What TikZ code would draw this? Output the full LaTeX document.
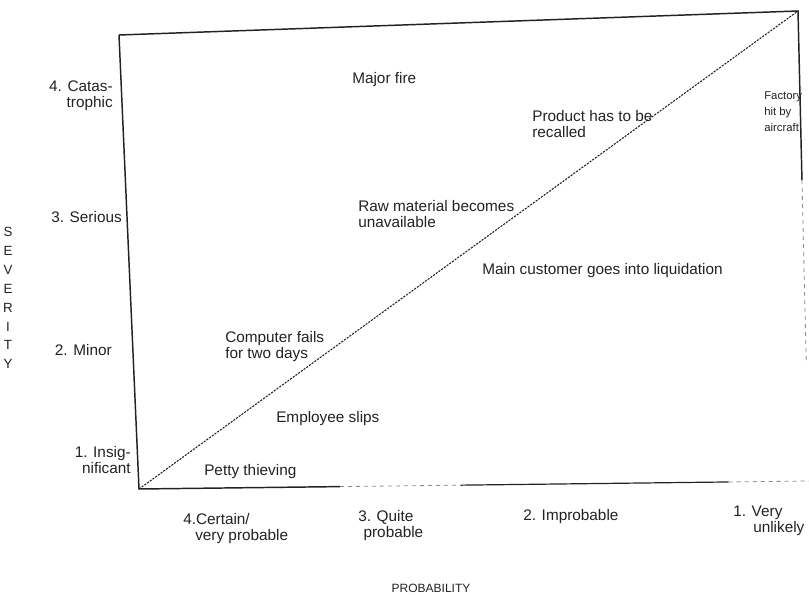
\documentclass[tikz,border=0pt]{standalone}
\usepackage{fontspec}
\setmainfont{Liberation Sans}
\usepackage{xcolor}
\usetikzlibrary{calc}
\definecolor{ink}{HTML}{222222}
\definecolor{faint}{HTML}{8A8A8A}
\tikzset{
  frame/.style={draw=ink, line width=1.1pt},
  worn/.style={draw=faint, line width=0.6pt, dashed},
  divide/.style={draw=ink, line width=0.8pt, dash pattern=on 1.6pt off 0.9pt},
  lab/.style={text=ink, font=\fontsize{11.5}{12}\selectfont, inner sep=0pt, align=left},
  scale lab/.style={lab, align=right, anchor=east},
  axis title/.style={text=ink, font=\fontsize{9}{14.2}\selectfont, inner sep=0pt, align=center},
}

\begin{document}
\begin{tikzpicture}[x=0.75pt, y=-0.75pt]
\useasboundingbox (0,0) rectangle (809,595);

% corners of the chart
\coordinate (tl) at (119,35);
\coordinate (tr) at (798,11);
\coordinate (br) at (809,481);
\coordinate (bl) at (139,489);

% frame and dividing diagonal
\draw[frame] (tl) -- (tr) -- ($(tr)!0.36!(br)$);
\draw[worn] ($(tr)!0.36!(br)$) -- ($(tr)!0.75!(br)$);
\draw[frame] (tl) -- (bl) -- ($(bl)!0.3!(br)$);
\draw[worn] ($(bl)!0.3!(br)$) -- ($(bl)!0.48!(br)$);
\draw[frame, line width=0.9pt] ($(bl)!0.48!(br)$) -- ($(bl)!0.88!(br)$);
\draw[worn] ($(bl)!0.88!(br)$) -- (br);
\draw[divide] (bl) -- (tr);

% severity scale
\node[scale lab] (sev4) at (113,96) {4. Catas-\\trophic};
\node[scale lab] (sev3) at (122,217) {3. Serious};
\node[scale lab] (sev2) at (112,350) {2. Minor};
\node[scale lab] (sev1) at (131,460) {1. Insig-\\nificant};
\node[axis title, font=\fontsize{10}{14.2}\selectfont] (severity) at (8,298) {S\\E\\V\\E\\R\\I\\T\\Y};

% probability scale
\node[lab, anchor=west] (prob4) at (183,529) {4.Certain/\\\hspace*{9pt}very probable};
\node[lab, anchor=west] (prob3) at (358,526) {3. Quite\\\hspace*{4pt}probable};
\node[lab, anchor=west] (prob2) at (523,517) {2. Improbable};
\node[lab, anchor=west] (prob1) at (733,521) {1. Very\\\hspace*{15pt}unlikely};
\node[axis title] (probability) at (431,588) {PROBABILITY};

% risks
\node[lab, anchor=west] (fire) at (352,80) {Major fire};
\node[lab, anchor=west] (recall) at (532,124) {Product has to be\\recalled};
\node[lab, anchor=west, font=\fontsize{8.5}{12}\selectfont] (aircraft) at (764,112) {Factory\\hit by\\aircraft};
\node[lab, anchor=west] (material) at (358,214) {Raw material becomes\\unavailable};
\node[lab, anchor=west] (customer) at (482,271) {Main customer goes into liquidation};
\node[lab, anchor=west] (computer) at (225,347) {Computer fails\\for two days};
\node[lab, anchor=west] (slips) at (276,419) {Employee slips};
\node[lab, anchor=west] (thieving) at (204,472) {Petty thieving};
\end{tikzpicture}
\end{document}
